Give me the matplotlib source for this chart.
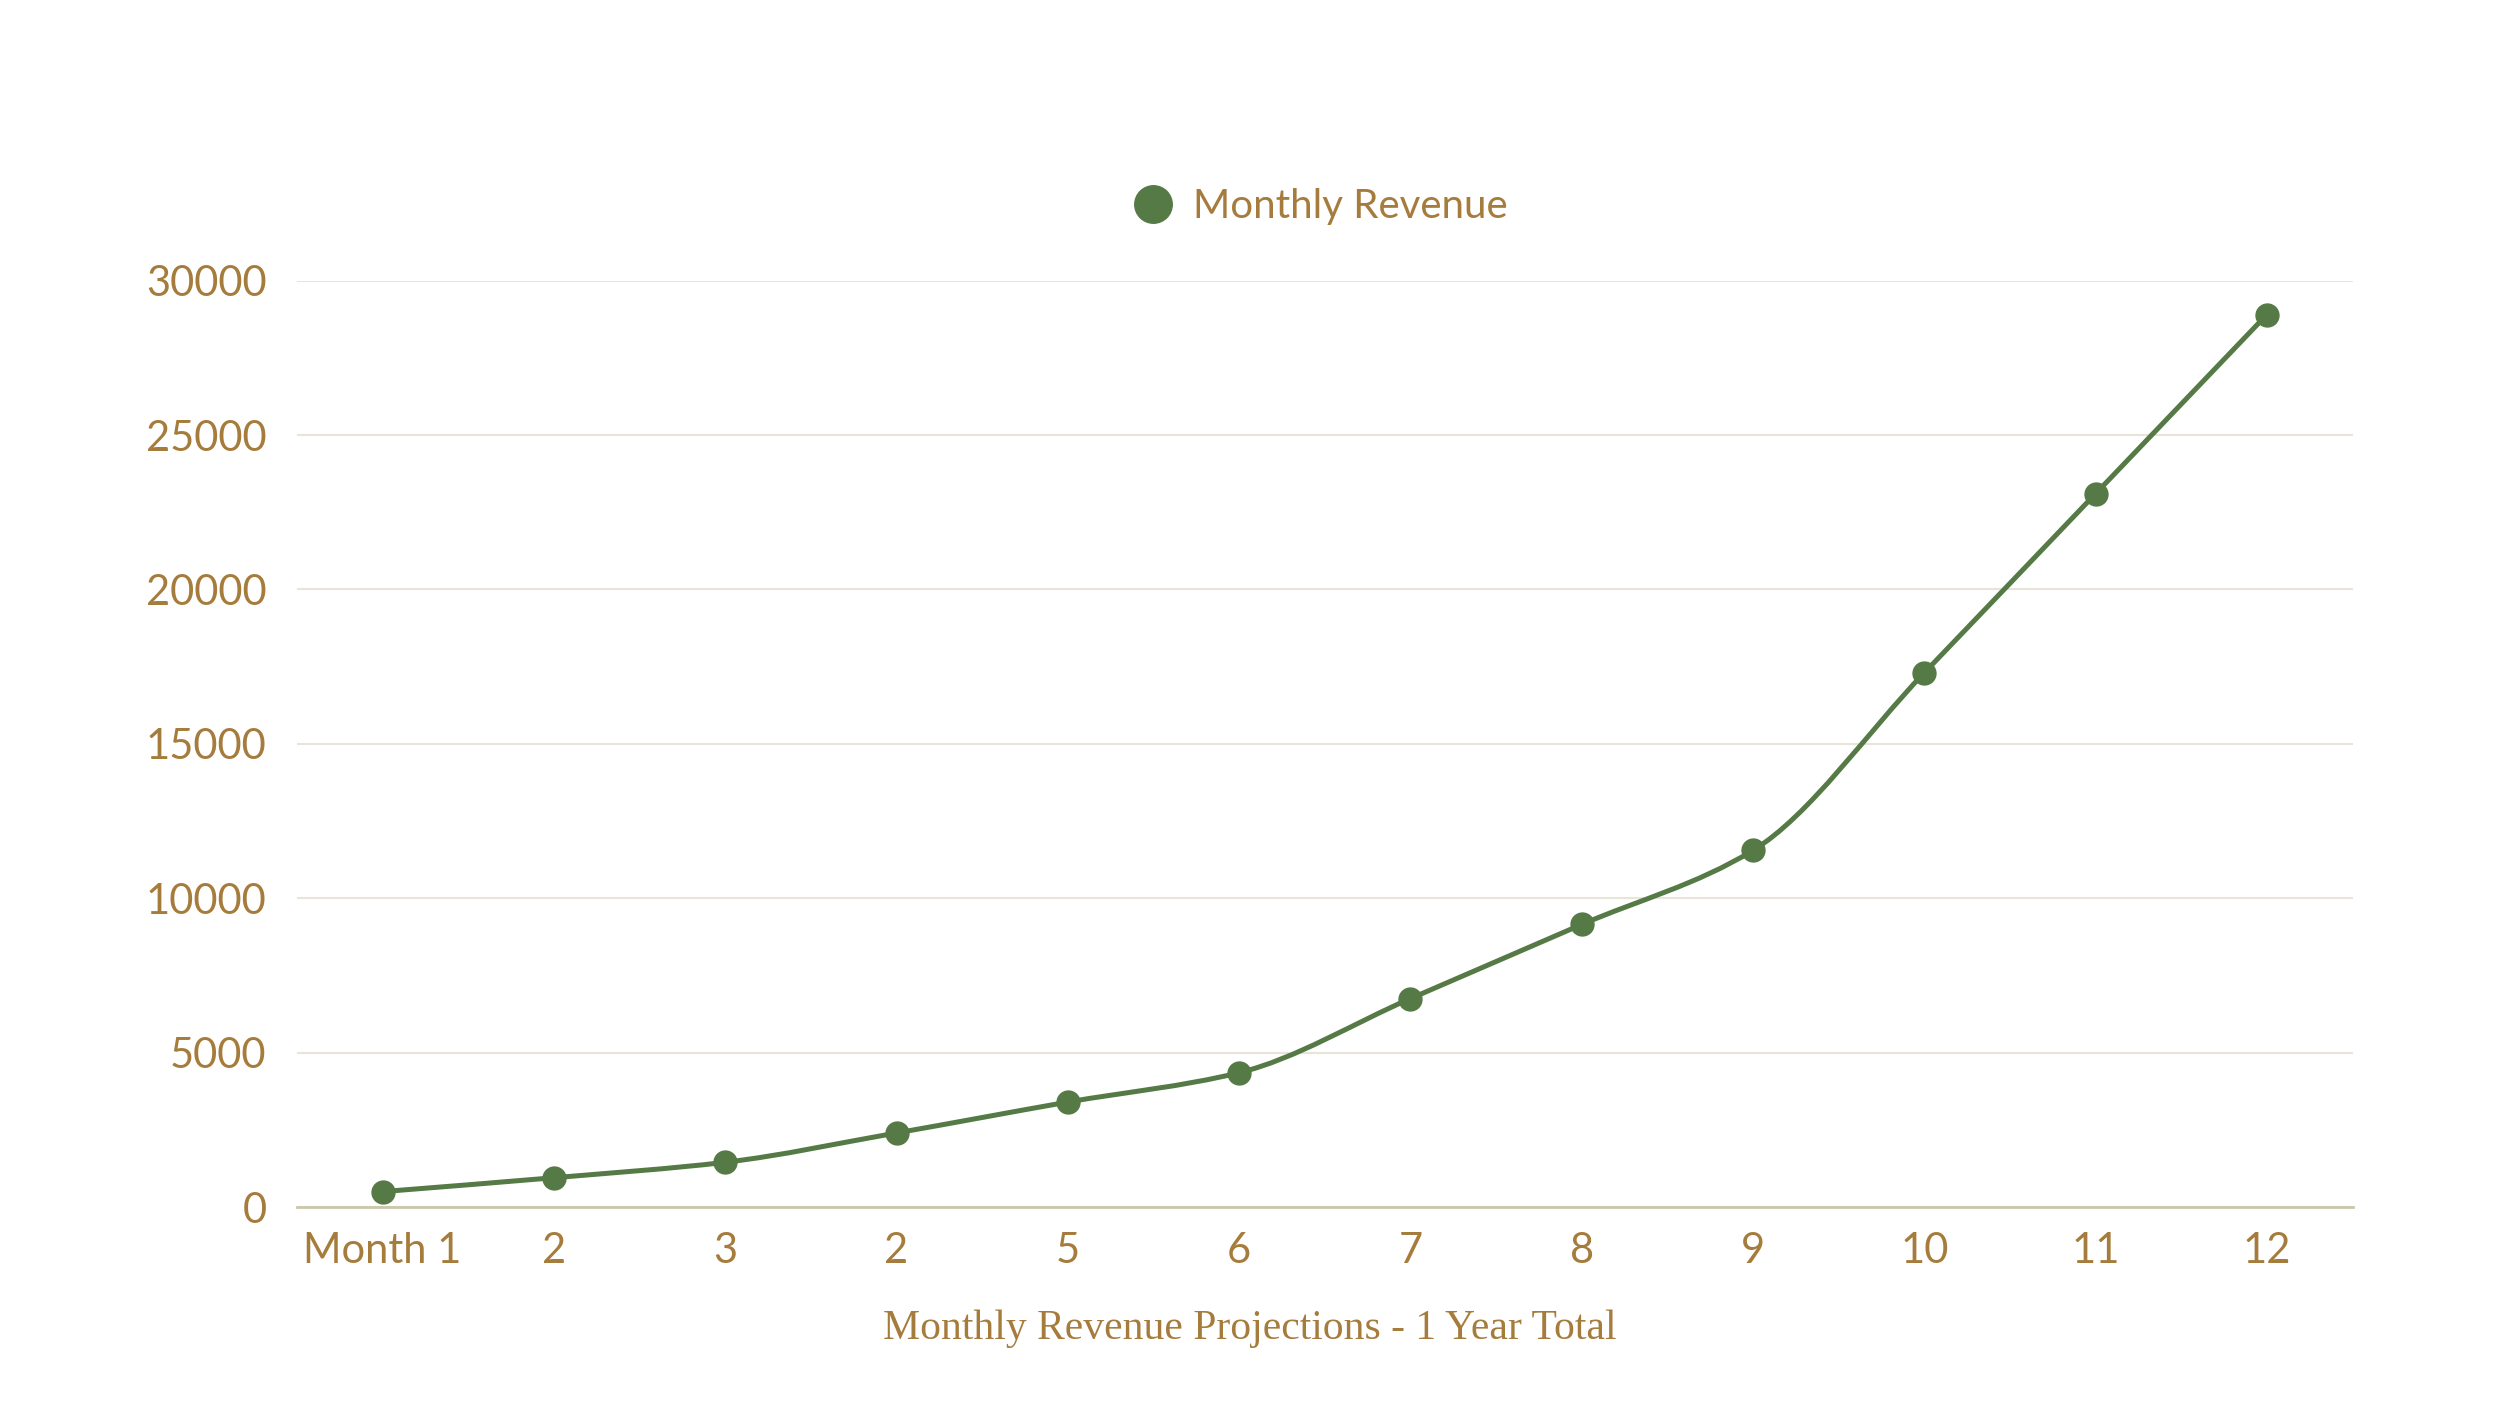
import matplotlib
matplotlib.use("Agg")

import numpy as np
import matplotlib.pyplot as plt
from matplotlib.path import Path
from matplotlib.patches import PathPatch
from matplotlib.lines import Line2D

months = ["Month 1", "2", "3", "2", "5", "6", "7", "8", "9", "10", "11", "12"]
revenue = [500, 950, 1450, 2400, 3400, 4350, 6750, 9150, 11550, 17300, 23100, 28900]
y_ticks = [0, 5000, 10000, 15000, 20000, 25000, 30000]

GREEN = "#557a46"
GOLD = "#a67c3d"
GRID = "#e8e5d8"
AXIS = "#cbc7ae"
SANS = ["Lato", "DejaVu Sans"]


def _smooth_path(xs, ys):
    """Monotone cubic (Fritsch-Carlson) bezier path through the points."""
    xs = np.asarray(xs, float)
    ys = np.asarray(ys, float)
    h = np.diff(xs)
    d = np.diff(ys) / h
    m = np.zeros_like(ys)
    m[0], m[-1] = d[0], d[-1]
    for i in range(1, len(ys) - 1):
        if d[i - 1] * d[i] <= 0:
            m[i] = 0
        else:
            w1 = 2 * h[i] + h[i - 1]
            w2 = h[i] + 2 * h[i - 1]
            m[i] = (w1 + w2) / (w1 / d[i - 1] + w2 / d[i])
    verts = [(xs[0], ys[0])]
    codes = [Path.MOVETO]
    for i in range(len(xs) - 1):
        dx = h[i] / 3
        verts += [
            (xs[i] + dx, ys[i] + m[i] * dx),
            (xs[i + 1] - dx, ys[i + 1] - m[i + 1] * dx),
            (xs[i + 1], ys[i + 1]),
        ]
        codes += [Path.CURVE4] * 3
    return Path(verts, codes)


fig = plt.figure(figsize=(25, 14.06), dpi=100)
fig.patch.set_facecolor("white")
ax = fig.add_axes([0.1188, 0.1415, 0.8222, 0.6589])

x = np.arange(len(months))
ax.add_patch(PathPatch(
    _smooth_path(x, revenue), facecolor="none", edgecolor=GREEN,
    linewidth=3.6, zorder=3, capstyle="round", joinstyle="round",
))
ax.plot(x, revenue, linestyle="None", marker="o", markersize=16.5,
        color=GREEN, zorder=4)

ax.set_xlim(-0.5, len(months) - 0.5)
ax.set_ylim(0, 30000)
ax.set_xticks(x)
ax.set_xticklabels(months)
ax.set_yticks(y_ticks)
ax.set_yticklabels([str(v) for v in y_ticks])

for lab in ax.get_xticklabels() + ax.get_yticklabels():
    lab.set_family(SANS)
    lab.set_fontsize(30)
    lab.set_color(GOLD)
ax.tick_params(axis="x", length=0, pad=18)
ax.tick_params(axis="y", length=0, pad=22)

for side in ("top", "right", "left"):
    ax.spines[side].set_visible(False)
ax.spines["bottom"].set_color(AXIS)
ax.spines["bottom"].set_linewidth(2)
ax.yaxis.grid(True, color=GRID, linewidth=1.5)
ax.set_axisbelow(True)

handle = Line2D([0], [0], linestyle="None", marker="o", markersize=27,
                color=GREEN, label="Monthly Revenue")
fig.legend(
    handles=[handle], loc="center", bbox_to_anchor=(0.524, 0.853),
    frameon=False, handletextpad=0.0, borderpad=0,
    prop={"family": SANS, "size": 29},
    labelcolor=GOLD,
)

fig.text(
    0.5, 0.055, "Monthly Revenue Projections - 1 Year Total",
    ha="center", va="center", fontsize=30, color=GOLD,
    family=["Liberation Serif", "DejaVu Serif"],
)

fig.savefig("out.png", dpi=100, facecolor="white")
plt.close(fig)
